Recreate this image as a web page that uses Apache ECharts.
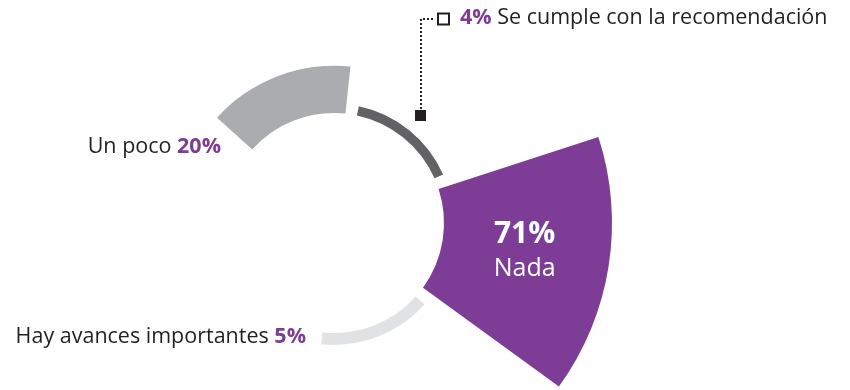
<!DOCTYPE html>
<html>
<head>
<meta charset="utf-8">
<script src="https://cdn.jsdelivr.net/npm/echarts@6/dist/echarts.min.js"></script>
<style>
  html, body { margin: 0; padding: 0; background: #ffffff; }
  #chart { width: 850px; height: 390px; }
</style>
</head>
<body>
<div id="chart"></div>
<script>
// Survey answers, drawn clockwise; the two trailing blank slots leave the lower-left open.
const categories = ['Un poco', 'Se cumple con la recomendación', 'Nada', 'Hay avances importantes', '', ''];
const values = [20, 4, 71, 5, null, null];
const colors = ['#abacaf', '#626264', '#7d3d96', '#e1e2e4'];

const purple = '#7d3d96';
const ink = '#231f20';
const font = '"Open Sans", "Noto Sans", sans-serif';
const fs = 21.5;

const pct = v => v + '%';

const chart = echarts.init(document.getElementById('chart'), null, { renderer: 'canvas' });

const seriesData = values.map((v, i) => v == null ? '-' : {
  value: v,
  itemStyle: { color: colors[i] },
  label: i === 2 ? {
    show: true,
    position: 'middle',
    rotate: 0,
    offset: [-1, -1.5],
    formatter: '{b|' + pct(v) + '}\n{n|' + categories[i] + '}',
    rich: {
      b: { color: '#ffffff', fontFamily: font, fontWeight: 'bold', fontSize: 30, lineHeight: 34 },
      n: { color: '#ffffff', fontFamily: font, fontSize: 25, lineHeight: 34 }
    }
  } : { show: false }
});

// rich styles for graphic text use zrender's `fill`
const richText = {
  t: { fill: ink, fontFamily: font, fontSize: fs },
  p: { fill: purple, fontFamily: font, fontSize: fs, fontWeight: 'bold' }
};

chart.setOption({
  animation: false,
  backgroundColor: '#ffffff',
  polar: { center: [334, 223], radius: [110, 278] },
  angleAxis: {
    type: 'category',
    data: categories,
    startAngle: 141,
    clockwise: true,
    axisLine: { show: false },
    axisTick: { show: false },
    axisLabel: { show: false },
    splitLine: { show: false }
  },
  radiusAxis: {
    type: 'value',
    min: 0,
    max: 71,
    axisLine: { show: false },
    axisTick: { show: false },
    axisLabel: { show: false },
    splitLine: { show: false }
  },
  series: [{
    type: 'bar',
    coordinateSystem: 'polar',
    barCategoryGap: '10%',
    data: seriesData
  }],
  graphic: [
    // dotted leader from the thin arc up to the legend key
    {
      type: 'polyline',
      shape: { points: [[421, 109], [421, 19], [434, 19]] },
      style: { stroke: ink, lineWidth: 2, lineDash: [2, 2], fill: null }
    },
    { type: 'rect', shape: { x: 415, y: 110, width: 11, height: 11 }, style: { fill: ink } },
    { type: 'rect', shape: { x: 438, y: 13.5, width: 11, height: 11 }, style: { fill: '#ffffff', stroke: ink, lineWidth: 2 } },
    {
      type: 'text', x: 460, y: 18,
      style: {
        text: '{p|' + pct(values[1]) + ' }{t|' + categories[1] + '}',
        rich: richText, align: 'left', verticalAlign: 'middle'
      }
    },
    {
      type: 'text', x: 221, y: 147,
      style: {
        text: '{t|' + categories[0] + ' }{p|' + pct(values[0]) + '}',
        rich: richText, align: 'right', verticalAlign: 'middle'
      }
    },
    {
      type: 'text', x: 306, y: 337,
      style: {
        text: '{t|' + categories[3] + ' }{p|' + pct(values[3]) + '}',
        rich: richText, align: 'right', verticalAlign: 'middle'
      }
    }
  ]
});
</script>
</body>
</html>
